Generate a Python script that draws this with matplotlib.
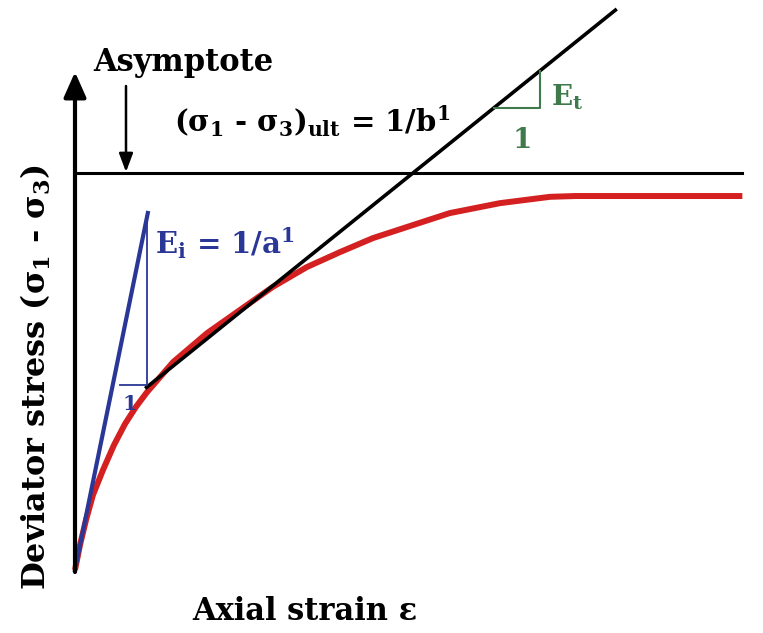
import matplotlib
matplotlib.use("Agg")
import matplotlib.pyplot as plt

# upright bold serif for all math pieces (sigma, subscripts, superscripts)
plt.rcParams["mathtext.fontset"] = "custom"
plt.rcParams["mathtext.rm"] = "DejaVu Serif:bold"
plt.rcParams["mathtext.it"] = "DejaVu Serif:bold"
plt.rcParams["mathtext.bf"] = "DejaVu Serif:bold"

# Hyperbolic stress-strain model (Kondner): chart units
strain = [0, 0.075, 0.165, 0.269, 0.419, 0.584, 0.749, 0.913, 1.078, 1.47, 1.98,
          2.47, 2.96, 3.47, 3.97, 4.46, 4.97, 5.61, 6.36, 7.11, 7.49, 9.99]
stress = [0, 0.63, 1.26, 1.89, 2.52, 3.15, 3.68, 4.11, 4.48, 5.24, 5.97,
          6.55, 7.13, 7.63, 8.01, 8.36, 8.64, 8.99, 9.24, 9.40, 9.42, 9.42]

ult_stress = 10.0            # (s1 - s3)_ult = 1/b
asym_strain = [0.0, 9.99]

Ei = 8.25                    # initial tangent modulus = 1/a
Ei_strain = [0.0, 1.09]

Et = 1.354                   # tangent modulus at a point on the curve
Et_intercept = 3.15
Et_strain = [1.05, 8.11]

# small slope triangles
Ei_tri_x = [0.67, 1.078, 1.078]
Ei_tri_y = [4.66, 4.66, 8.95]
Et_tri_x = [6.27, 6.96, 6.96]
Et_tri_y = [11.64, 11.64, 12.57]

W, H = 763, 633
X0, Y0 = 75, 570            # origin in pixels
SX, SY = 66.8, 39.7          # pixels per chart unit

fig = plt.figure(figsize=(W / 100, H / 100), dpi=100)
ax = fig.add_axes([0, 0, 1, 1])
ax.set_xlim(-X0 / SX, (W - X0) / SX)
ax.set_ylim(-(H - Y0) / SY, Y0 / SY)
ax.axis("off")


def u(xp, yp):
    return ((xp - X0) / SX, (Y0 - yp) / SY)


def f(xp, yp):
    return (xp / W, 1 - yp / H)


serif = ["DejaVu Serif"]

BLUE = "#2a3796"
GREEN = "#3f7a4c"
RED = "#d42020"

# asymptote
ax.plot(asym_strain, [ult_stress, ult_stress], color="black", lw=2.2, zorder=3)

# tangent line at a point on the curve
et_y = [Et_intercept + Et * x for x in Et_strain]
ax.plot(Et_strain, et_y, color="black", lw=2.6, zorder=4, solid_capstyle="butt")

# initial tangent
ax.plot(Ei_strain, [Ei * x for x in Ei_strain], color=BLUE, lw=3.0, zorder=4)
ax.plot(Ei_tri_x, Ei_tri_y, color=BLUE, lw=1.3, zorder=4)
ax.plot(Et_tri_x, Et_tri_y, color=GREEN, lw=1.5, zorder=4)

# stress-strain curve
ax.plot(strain, stress, color=RED, lw=4.3, zorder=3, solid_joinstyle="round",
        solid_capstyle="butt")

# axes with arrowheads
arrow = dict(arrowstyle="-|>,head_length=0.9,head_width=0.4", lw=3.0,
             color="black", shrinkA=0, shrinkB=0, mutation_scale=17)
ax.annotate("", xy=u(75, 72), xytext=u(75, 572), arrowprops=arrow, zorder=5)
ax.annotate("", xy=u(764, 570), xytext=u(73, 570), arrowprops=arrow, zorder=5)

# arrow pointing at the asymptote
ax.annotate("", xy=u(126, 172), xytext=u(126, 86),
            arrowprops=dict(arrowstyle="-|>,head_length=0.8,head_width=0.3", lw=1.8,
                            color="black", shrinkA=0, shrinkB=0, mutation_scale=14),
            zorder=5)

bold = dict(family=serif, fontweight="bold", color="black")
fig.text(*f(93, 62), "Asymptote", fontsize=22, ha="left", va="center", **bold)
fig.text(*f(174, 121), r"($\sigma_1$ - $\sigma_3$)$_{ult}$ = 1/b$^1$",
         fontsize=21, ha="left", va="center", **bold)
fig.text(*f(155, 243), r"E$_{i}$ = 1/a$^1$", fontsize=21, ha="left",
         va="center", family=serif, fontweight="bold", color=BLUE)
fig.text(*f(130, 404), "1", fontsize=15, ha="center", va="center", family=serif,
         fontweight="bold", color=BLUE)
fig.text(*f(551, 97), r"E$_{t}$", fontsize=20, ha="left", va="center",
         family=serif, fontweight="bold", color=GREEN)
fig.text(*f(522, 140), "1", fontsize=20, ha="center", va="center", family=serif,
         fontweight="bold", color=GREEN)

fig.text(*f(36, 377), r"Deviator stress ($\sigma_1$ - $\sigma_3$)", fontsize=23,
         rotation=90, ha="center", va="center", **bold)
fig.text(*f(305, 611), "Axial strain ε", fontsize=22, ha="center",
         va="center", **bold)

fig.savefig("out.png", dpi=100)
